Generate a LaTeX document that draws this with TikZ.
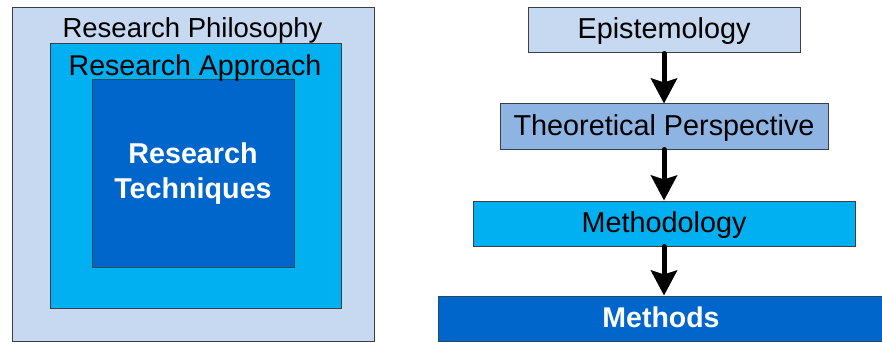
\documentclass[tikz,border=0pt]{standalone}
\usepackage{fontspec}
\setmainfont{Liberation Sans}
\usetikzlibrary{arrows.meta}
\definecolor{paleblue}{HTML}{C6D9F1}
\definecolor{skyblue}{HTML}{00B0F0}
\definecolor{deepblue}{HTML}{0066CC}
\definecolor{midblue}{HTML}{8EB4E3}
\definecolor{edgegray}{HTML}{3A3F47}
\definecolor{edgeteal}{HTML}{1F4E5A}
\tikzset{
  panel/.style={draw=edgegray, line width=1pt, inner sep=0pt},
  lbl/.style={font=\fontsize{28.8}{34.6}\selectfont, inner sep=0pt, anchor=base},
  stage/.style={draw=edgegray, line width=1pt, inner sep=0pt, minimum height=45pt,
    font=\fontsize{28.8}{34.6}\selectfont, text height=20pt, text depth=3pt},
  flow/.style={line width=5pt, line cap=round, -{Stealth[length=25pt,width=26pt,inset=4pt]}}
}
\begin{document}
\begin{tikzpicture}[x=1pt,y=-1pt]
\useasboundingbox (0,0) rectangle (882,342);
\fill[white] (0,0) rectangle (882,342);
% nested levels of research
\node[panel, fill=paleblue, minimum width=362pt, minimum height=333pt] (philo) at (193,174.5) {};
\node[panel, fill=skyblue, minimum width=291pt, minimum height=264pt] (appr) at (195.5,176) {};
\node[panel, draw=edgeteal, fill=deepblue, minimum width=202pt, minimum height=187pt,
  align=center, text=white, font=\bfseries\fontsize{28.7}{35}\selectfont] (tech) at (193,173.5) {Research\\Techniques};
\node[lbl, font=\fontsize{27.5}{33}\selectfont] (philolbl) at (192.5,38) {Research Philosophy};
\node[lbl, font=\fontsize{28.6}{34}\selectfont] (applbl) at (195,76) {Research Approach};
% hierarchy of research process
\node[stage, fill=paleblue, minimum width=272pt] (epi) at (664,30.5) {Epistemology};
\node[stage, fill=midblue, minimum width=328pt] (theo) at (664,126.5) {Theoretical Perspective};
\node[stage, fill=skyblue, minimum width=382pt] (meth) at (664,223.5) {Methodology};
\node[stage, draw=edgeteal, fill=deepblue, minimum width=446pt, text=white,
  font=\bfseries\fontsize{28.5}{34}\selectfont] (mths) at (661,318.5) {Methods};
\draw[flow] (epi.south) -- (theo.north);
\draw[flow] (theo.south) -- (meth.north);
\draw[flow] (meth.south) -- (meth.south |- mths.north);
\end{tikzpicture}
\end{document}
